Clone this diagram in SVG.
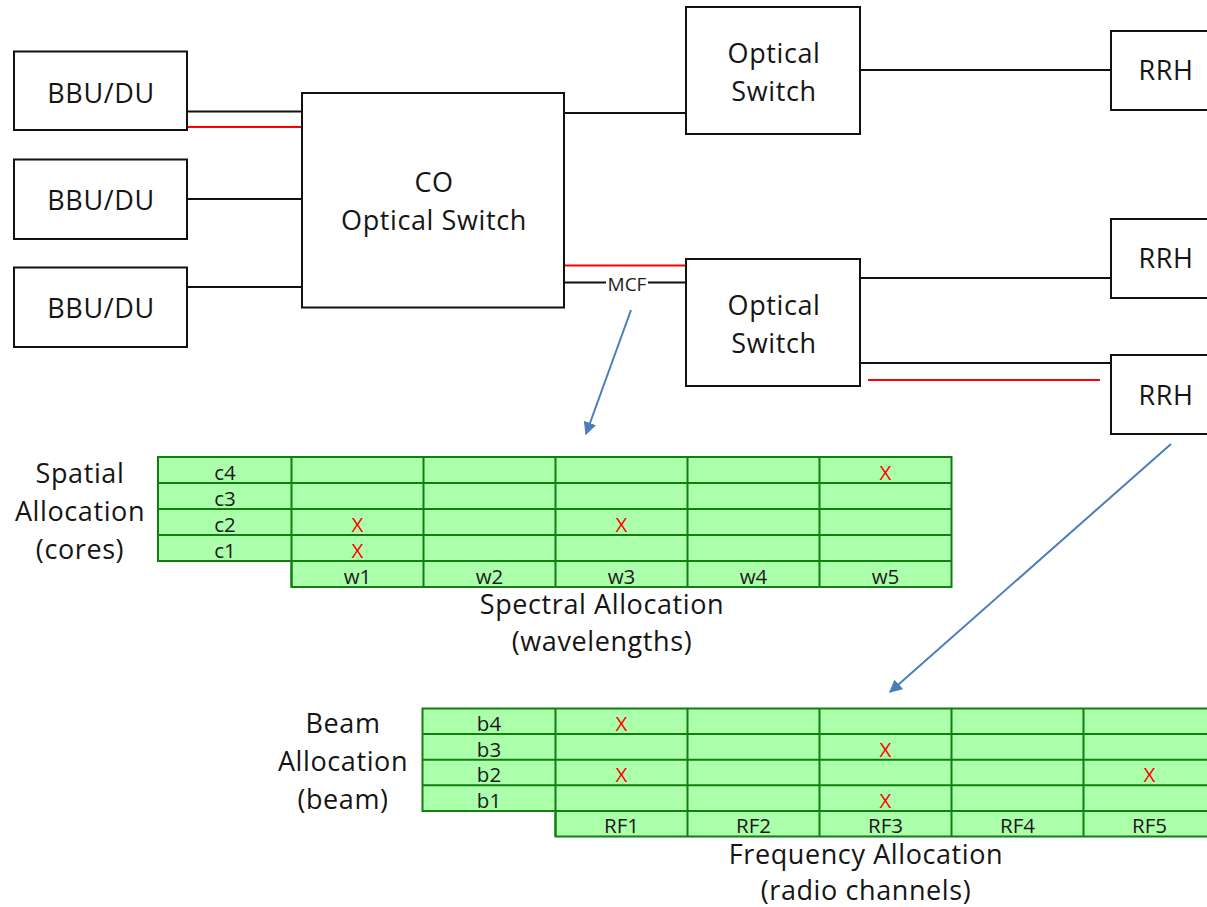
<svg xmlns="http://www.w3.org/2000/svg" width="1207" height="907" viewBox="0 0 1207 907">
  <defs>
    <style>
      .box { fill: #ffffff; stroke: #111111; stroke-width: 2; }
      .lbl { font-family: "Open Sans", "Liberation Sans", sans-serif; font-size: 27px; letter-spacing: 0.6px; fill: #151515; text-anchor: middle; }
      .wire { stroke: #111111; stroke-width: 2; fill: none; }
      .wire-red { stroke: #ff0000; stroke-width: 2; fill: none; }
      .ptr { stroke: #4a7ebb; stroke-width: 2; fill: none; }
      .grid-fill { fill: #abffab; stroke: #0f7f0f; stroke-width: 2; }
      .grid-line { stroke: #0f7f0f; stroke-width: 2; fill: none; }
      .cell { font-family: "Open Sans", "Liberation Sans", sans-serif; font-size: 20.5px; fill: #1a1a1a; text-anchor: middle; }
      .mark { font-family: "Open Sans", "Liberation Sans", sans-serif; font-size: 20.5px; fill: #ff0000; text-anchor: middle; }
      .small { font-family: "Open Sans", "Liberation Sans", sans-serif; font-size: 19px; fill: #222222; text-anchor: middle; }
    </style>
    <marker id="ah" viewBox="0 0 10 10" refX="9" refY="5" markerWidth="13" markerHeight="13" markerUnits="userSpaceOnUse" orient="auto">
      <path d="M0,0 L10,5 L0,10 z" fill="#4a7ebb"/>
    </marker>
  </defs>

  <rect x="0" y="0" width="1207" height="907" fill="#ffffff"/>

  <!-- connectors -->
  <g id="connectors">
    <line class="wire" x1="187" y1="111.5" x2="302" y2="111.5"/>
    <line class="wire-red" x1="187" y1="127" x2="302" y2="127"/>
    <line class="wire" x1="187" y1="199" x2="302" y2="199"/>
    <line class="wire" x1="187" y1="287" x2="302" y2="287"/>
    <line class="wire" x1="564" y1="113" x2="686" y2="113"/>
    <line class="wire" x1="860" y1="70" x2="1111" y2="70"/>
    <line class="wire-red" x1="564" y1="265.5" x2="686" y2="265.5"/>
    <line class="wire" x1="564" y1="282.5" x2="686" y2="282.5"/>
    <rect x="606" y="273" width="42" height="19" fill="#ffffff"/>
    <text class="small" x="627" y="291">MCF</text>
    <line class="wire" x1="860" y1="278" x2="1111" y2="278"/>
    <line class="wire" x1="860" y1="363" x2="1111" y2="363"/>
    <line class="wire-red" x1="868" y1="380" x2="1100" y2="380"/>
    <line class="ptr" x1="631" y1="310" x2="586" y2="434" marker-end="url(#ah)"/>
    <line class="ptr" x1="1171" y1="444" x2="890" y2="692" marker-end="url(#ah)"/>
  </g>

  <!-- baseband units -->
  <g id="bbu1">
    <rect class="box" x="14" y="51.5" width="173" height="78.5"/>
    <text class="lbl" x="101" y="102.5">BBU/DU</text>
  </g>
  <g id="bbu2">
    <rect class="box" x="14" y="159.5" width="173" height="79.5"/>
    <text class="lbl" x="101" y="210">BBU/DU</text>
  </g>
  <g id="bbu3">
    <rect class="box" x="14" y="267.5" width="173" height="79.5"/>
    <text class="lbl" x="101" y="318">BBU/DU</text>
  </g>

  <!-- central office switch -->
  <g id="co-switch">
    <rect class="box" x="302" y="93" width="262" height="214.5"/>
    <text class="lbl" x="434" y="191.5">CO</text>
    <text class="lbl" x="434" y="230">Optical Switch</text>
  </g>

  <!-- remote optical switches -->
  <g id="switch1">
    <rect class="box" x="686" y="7" width="174" height="127"/>
    <text class="lbl" x="774" y="63">Optical</text>
    <text class="lbl" x="774" y="101">Switch</text>
  </g>
  <g id="switch2">
    <rect class="box" x="686" y="259" width="174" height="127"/>
    <text class="lbl" x="774" y="315">Optical</text>
    <text class="lbl" x="774" y="353">Switch</text>
  </g>

  <!-- remote radio heads -->
  <g id="rrh1">
    <rect class="box" x="1111" y="31" width="110" height="79"/>
    <text class="lbl" x="1166" y="80">RRH</text>
  </g>
  <g id="rrh2">
    <rect class="box" x="1111" y="219" width="110" height="79"/>
    <text class="lbl" x="1166" y="268">RRH</text>
  </g>
  <g id="rrh3">
    <rect class="box" x="1111" y="355" width="110" height="79"/>
    <text class="lbl" x="1166" y="405">RRH</text>
  </g>

  <!-- core / wavelength allocation grid -->
  <g id="spatial-grid">
    <path class="grid-fill" d="M158,457 L951.5,457 L951.5,587 L291.5,587 L291.5,561 L158,561 Z"/>
    <path class="grid-line" d="M158,483 H951.5 M158,509 H951.5 M158,535 H951.5 M158,561 H951.5
      M291.5,457 V587 M423.5,457 V587 M555.5,457 V587 M687.5,457 V587 M819.5,457 V587"/>
    <text class="cell" x="225" y="480">c4</text>
    <text class="cell" x="225" y="506">c3</text>
    <text class="cell" x="225" y="532">c2</text>
    <text class="cell" x="225" y="558">c1</text>
    <text class="cell" x="357.5" y="584">w1</text>
    <text class="cell" x="489.5" y="584">w2</text>
    <text class="cell" x="621.5" y="584">w3</text>
    <text class="cell" x="753.5" y="584">w4</text>
    <text class="cell" x="885.5" y="584">w5</text>
    <text class="mark" x="885.5" y="480">X</text>
    <text class="mark" x="357.5" y="532">X</text>
    <text class="mark" x="621.5" y="532">X</text>
    <text class="mark" x="357.5" y="558">X</text>
  </g>
  <g id="spatial-labels">
    <text class="lbl" x="80" y="483">Spatial</text>
    <text class="lbl" x="80" y="521">Allocation</text>
    <text class="lbl" x="80" y="559">(cores)</text>
    <text class="lbl" x="602" y="614">Spectral Allocation</text>
    <text class="lbl" x="602" y="651">(wavelengths)</text>
  </g>

  <!-- beam / radio channel allocation grid -->
  <g id="beam-grid">
    <path class="grid-fill" d="M422.5,708.5 L1215.5,708.5 L1215.5,836.5 L555.5,836.5 L555.5,810.9 L422.5,810.9 Z"/>
    <path class="grid-line" d="M422.5,734.1 H1215.5 M422.5,759.7 H1215.5 M422.5,785.3 H1215.5 M422.5,810.9 H1215.5
      M555.5,708.5 V836.5 M687.5,708.5 V836.5 M819.5,708.5 V836.5 M951.5,708.5 V836.5 M1083.5,708.5 V836.5"/>
    <text class="cell" x="489" y="731">b4</text>
    <text class="cell" x="489" y="756.6">b3</text>
    <text class="cell" x="489" y="782.2">b2</text>
    <text class="cell" x="489" y="807.8">b1</text>
    <text class="cell" x="621.5" y="833.4">RF1</text>
    <text class="cell" x="753.5" y="833.4">RF2</text>
    <text class="cell" x="885.5" y="833.4">RF3</text>
    <text class="cell" x="1017.5" y="833.4">RF4</text>
    <text class="cell" x="1149.5" y="833.4">RF5</text>
    <text class="mark" x="621.5" y="731">X</text>
    <text class="mark" x="885.5" y="756.6">X</text>
    <text class="mark" x="621.5" y="782.2">X</text>
    <text class="mark" x="1149.5" y="782.2">X</text>
    <text class="mark" x="885.5" y="807.8">X</text>
  </g>
  <g id="beam-labels">
    <text class="lbl" x="343" y="733">Beam</text>
    <text class="lbl" x="343" y="771">Allocation</text>
    <text class="lbl" x="343" y="809">(beam)</text>
    <text class="lbl" x="866" y="864">Frequency Allocation</text>
    <text class="lbl" x="866" y="899.5">(radio channels)</text>
  </g>
</svg>
